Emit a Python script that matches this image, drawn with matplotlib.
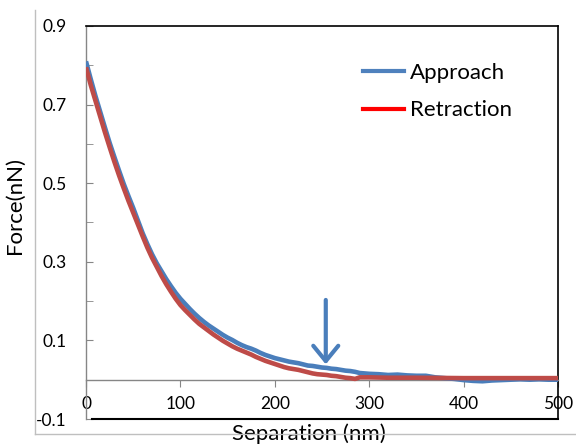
import matplotlib
matplotlib.use("Agg")
import matplotlib.pyplot as plt
from matplotlib.lines import Line2D

# Force-separation curves (nm, nN)
approach_x = [0, 5, 10, 15, 20, 25, 30, 35, 40, 45, 50, 55, 60, 65, 70, 75, 80, 85, 90, 95,
              100, 105, 110, 115, 120, 125, 130, 135, 140, 145, 150, 155, 160, 165, 170, 175,
              180, 185, 190, 195, 200, 205, 210, 215, 220, 225, 230, 235, 240, 245, 250, 255,
              260, 265, 270, 275, 280, 285, 290, 300, 310, 320, 330, 340, 350, 360, 370, 380,
              390, 400, 410, 420, 430, 440, 450, 460, 470, 480, 490, 500]
approach_y = [0.81, 0.765, 0.722, 0.682, 0.642, 0.603, 0.567, 0.532, 0.498, 0.467, 0.437, 0.405,
              0.373, 0.345, 0.319, 0.296, 0.276, 0.256, 0.238, 0.221,
              0.206, 0.193, 0.180, 0.168, 0.157, 0.147, 0.138, 0.130, 0.122, 0.114, 0.107, 0.101,
              0.094, 0.088, 0.083, 0.079, 0.074, 0.068, 0.063, 0.059, 0.055, 0.052, 0.049, 0.046,
              0.044, 0.042, 0.039, 0.036, 0.035, 0.033, 0.031, 0.030, 0.028, 0.027, 0.025, 0.023,
              0.022, 0.020, 0.017, 0.015, 0.014, 0.012, 0.013, 0.011, 0.010, 0.010, 0.006, 0.004,
              0.002, -0.001, -0.003, -0.004, -0.002, -0.001, 0.000, 0.001, 0.000, 0.001, 0.000, 0.000]

retraction_x = [0, 5, 10, 15, 20, 25, 30, 35, 40, 45, 50, 55, 60, 65, 70, 75, 80, 85, 90, 95,
                100, 105, 110, 115, 120, 125, 130, 135, 140, 145, 150, 155, 160, 165, 170, 175,
                180, 185, 190, 195, 200, 205, 210, 215, 220, 225, 230, 235, 240, 245, 250, 255,
                260, 265, 270, 275, 280, 285, 290, 300, 320, 350, 400, 450, 500]
retraction_y = [0.795, 0.750, 0.710, 0.670, 0.630, 0.592, 0.555, 0.520, 0.487, 0.455, 0.425, 0.395,
                0.365, 0.336, 0.310, 0.287, 0.264, 0.243, 0.224, 0.206,
                0.190, 0.177, 0.165, 0.153, 0.142, 0.133, 0.124, 0.115, 0.107, 0.099, 0.092, 0.085,
                0.079, 0.074, 0.069, 0.064, 0.058, 0.053, 0.048, 0.044, 0.040, 0.036, 0.032, 0.029,
                0.027, 0.025, 0.022, 0.019, 0.016, 0.014, 0.013, 0.012, 0.010, 0.009, 0.007, 0.005,
                0.004, 0.002, 0.006, 0.006, 0.005, 0.005, 0.004, 0.004, 0.004]

# Arrow marking the onset of the interaction
arrow_x = 254
arrow_from = 0.21
arrow_to = 0.032

x_ticks = [0, 100, 200, 300, 400, 500]
y_ticks = [-0.1, 0.1, 0.3, 0.5, 0.7, 0.9]
y_minor = [0.0, 0.2, 0.4, 0.6, 0.8]

BLUE = "#4A7EBB"
RED = "#BE4B48"
GRID = "#868686"

plt.rcParams["font.family"] = ["Lato", "DejaVu Sans"]

W, H = 576, 445
fig = plt.figure(figsize=(W / 100, H / 100), dpi=100)
ax = fig.add_axes([86 / W, (H - 419) / H, 472 / W, 393 / H])

ax.plot(approach_x, approach_y, color=BLUE, lw=3.3, solid_capstyle="butt", zorder=3)
ax.plot(retraction_x, retraction_y, color=RED, lw=3.3, solid_capstyle="butt", zorder=4)

ax.set_xlim(0, 500)
ax.set_ylim(-0.1, 0.9)

# Spines: gray value axes, black frame on top/right/bottom
ax.spines["left"].set_color(GRID)
ax.spines["left"].set_linewidth(1.0)
ax.spines["bottom"].set_position(("data", 0))
ax.spines["bottom"].set_color(GRID)
ax.spines["bottom"].set_linewidth(1.0)
ax.spines["top"].set_color("black")
ax.spines["right"].set_color("black")
ax.spines["top"].set_linewidth(1.2)
ax.spines["right"].set_linewidth(1.2)
ax.axhline(-0.1, xmin=0.012, xmax=1, color="black", lw=1.5, clip_on=False, zorder=5)

ax.set_yticks(y_ticks)
ax.set_yticklabels([f"{v:.1f}" for v in y_ticks])
ax.set_yticks(y_minor, minor=True)
ax.tick_params(axis="y", which="both", direction="in", length=5, color=GRID,
               labelsize=12.5, pad=14)
ax.set_xticks(x_ticks)
ax.set_xticklabels([str(v) for v in x_ticks])
ax.tick_params(axis="x", direction="out", length=5, color=GRID, labelsize=12.5, pad=7)

ax.set_xlabel("Separation (nm)", fontsize=16)
ax.xaxis.set_label_coords((309 - 86) / 472, (419 - 434) / 393)
ax.xaxis.label.set_va("center")
ax.set_ylabel("Force(nN)", fontsize=16)
ax.yaxis.set_label_coords((25 - 86) / 472, (419 - 205) / 393)

ax.annotate("", xy=(arrow_x, arrow_to), xytext=(arrow_x, arrow_from),
            arrowprops=dict(arrowstyle="->,head_length=0.55,head_width=0.45",
                            color=BLUE, lw=3.0, mutation_scale=20),
            zorder=6)

handles = [Line2D([], [], color="#4F81BD", lw=3),
           Line2D([], [], color="#FF0000", lw=3)]
leg = ax.legend(handles, ["Approach", "Retraction"], loc="upper left",
                bbox_to_anchor=((363 - 86) / 472, (419 - 63) / 393),
                frameon=False, fontsize=16, handlelength=1.85, handletextpad=0.25,
                labelspacing=0.78, borderaxespad=0, borderpad=0)

# Outer chart-area border
fig.add_artist(Line2D([35 / W, 35 / W], [(H - 10) / H, (H - 434) / H],
                      color="#BFBFBF", lw=1.0))
fig.add_artist(Line2D([35 / W, 1.0], [(H - 434) / H, (H - 434) / H],
                      color="#BFBFBF", lw=1.0))

fig.savefig("out.png", dpi=100)
